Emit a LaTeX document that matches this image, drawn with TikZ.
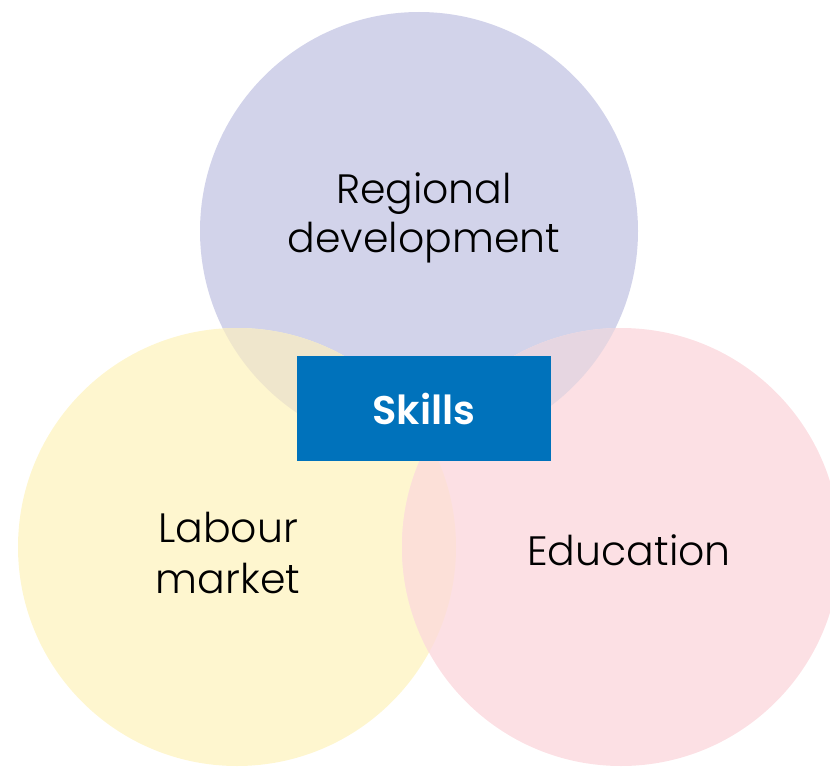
\documentclass[tikz,border=0pt]{standalone}
\usepackage{fontspec}
\setmainfont{Poppins}[UprightFont={* Light}, BoldFont={* SemiBold}]
\definecolor{lav}{HTML}{D2D3EA}
\definecolor{yel}{HTML}{FEF6CF}
\definecolor{pnk}{HTML}{FCE0E4}
\definecolor{lavyel}{HTML}{EFE6CC}
\definecolor{lavpnk}{HTML}{E6D6E1}
\definecolor{yelpnk}{HTML}{FCE0D8}
\definecolor{skblue}{HTML}{0072BB}
\tikzset{
  lbl/.style={font=\fontsize{41}{47}\selectfont, text=black, inner sep=0pt, anchor=base},
  skillsbox/.style={fill=skblue, minimum width=254pt, minimum height=105pt, inner sep=0pt,
     text=white, font=\fontsize{40}{46}\selectfont\bfseries}
}
\begin{document}
\begin{tikzpicture}[x=1pt,y=-1pt]
\useasboundingbox (0,0) rectangle (830,768);
\clip (0,0) rectangle (830,768);
% circles
\coordinate (ct) at (419,231);
\coordinate (cl) at (237,547);
\coordinate (cr) at (621,547);
\fill[lav] (ct) circle[radius=219];
\fill[yel] (cl) circle[radius=219];
\fill[pnk] (cr) circle[radius=219];
\begin{scope}
  \clip (ct) circle[radius=219];
  \fill[lavyel] (cl) circle[radius=219];
\end{scope}
\begin{scope}
  \clip (ct) circle[radius=219];
  \fill[lavpnk] (cr) circle[radius=219];
\end{scope}
\begin{scope}
  \clip (cl) circle[radius=219];
  \fill[yelpnk] (cr) circle[radius=219];
\end{scope}
% labels
\node[lbl] (reg1) at (424,203) {Regional};
\node[lbl] (reg2) at (424,252) {development};
\node[lbl] (lab1) at (228,542) {Labour};
\node[lbl] (lab2) at (228,593) {market};
\node[lbl] (edu) at (629,565) {Education};
\node[skillsbox] (skills) at (424,408.5) {Skills};
\end{tikzpicture}
\end{document}
